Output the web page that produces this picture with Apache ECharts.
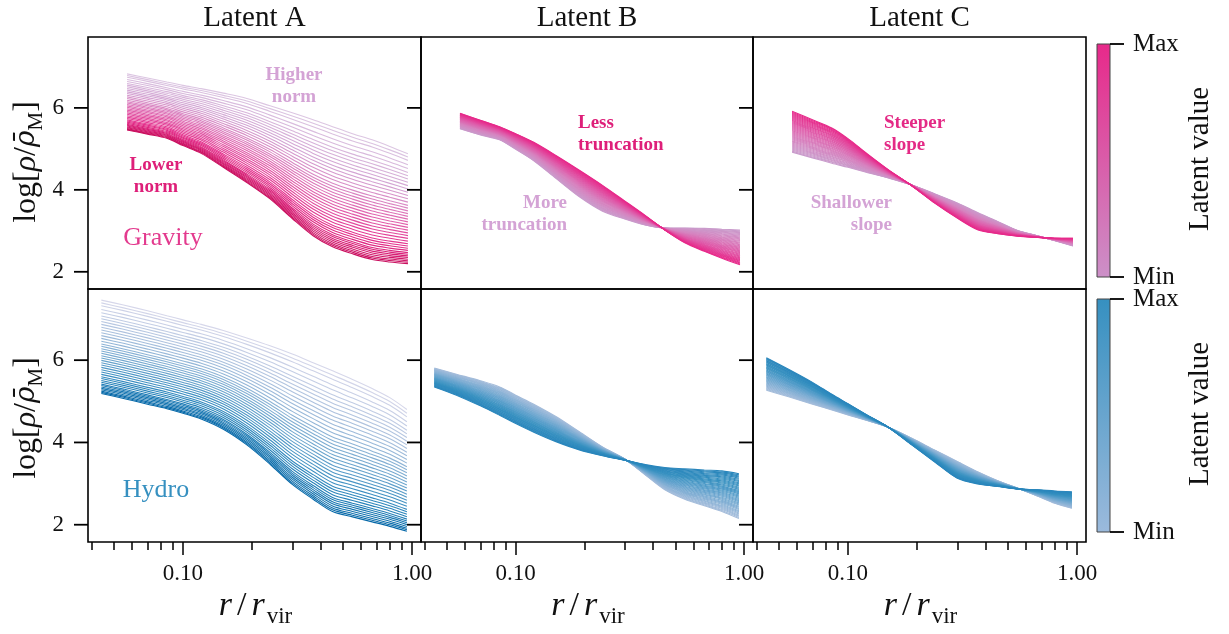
<!DOCTYPE html>
<html>
<head>
<meta charset="utf-8">
<script src="https://cdn.jsdelivr.net/npm/echarts@6/dist/echarts.min.js"></script>
<style>
  html, body { margin: 0; padding: 0; background: #fff; }
  #chart { width: 1229px; height: 634px; }
</style>
</head>
<body>
<div id="chart"></div>
<script>
  // radial bins, r / r_vir
  const rGravity = [0.057, 0.07, 0.085, 0.1, 0.12, 0.15, 0.19, 0.24, 0.3, 0.37, 0.45, 0.55, 0.67, 0.8, 0.96]
  const rHydro = [0.044, 0.055, 0.07, 0.085, 0.1, 0.12, 0.15, 0.19, 0.24, 0.3, 0.37, 0.45, 0.55, 0.67, 0.8, 0.95]

  // log[rho / rho_M] at the min and max latent value
  const gravAMin = [6.83, 6.73, 6.63, 6.55, 6.47, 6.36, 6.23, 6.05, 5.88, 5.71, 5.54, 5.37, 5.22, 5.06, 4.88]
  const gravAMax = [5.46, 5.36, 5.26, 5.08, 4.89, 4.55, 4.18, 3.78, 3.30, 2.88, 2.61, 2.44, 2.30, 2.24, 2.20]
  const gravBMin = [5.49, 5.34, 5.22, 4.99, 4.71, 4.28, 3.83, 3.48, 3.29, 3.14, 3.07, 3.07, 3.06, 3.04, 3.02]
  const gravBMax = [5.87, 5.70, 5.54, 5.37, 5.16, 4.84, 4.48, 4.11, 3.73, 3.37, 3.02, 2.71, 2.50, 2.33, 2.17]
  const gravCMin = [4.92, 4.78, 4.65, 4.55, 4.43, 4.29, 4.12, 3.90, 3.68, 3.44, 3.23, 3.01, 2.88, 2.76, 2.63]
  const gravCMax = [5.92, 5.71, 5.51, 5.25, 4.90, 4.49, 4.10, 3.67, 3.31, 3.02, 2.93, 2.87, 2.84, 2.82, 2.82]

  const hydroAMin = [7.46, 7.34, 7.20, 7.08, 6.98, 6.87, 6.72, 6.54, 6.35, 6.15, 5.94, 5.74, 5.53, 5.31, 5.09, 4.80]
  const hydroAMax = [5.19, 5.07, 4.93, 4.82, 4.71, 4.57, 4.32, 3.94, 3.47, 2.98, 2.62, 2.32, 2.19, 2.07, 1.96, 1.84]
  const hydroBMin = [5.81, 5.66, 5.50, 5.35, 5.15, 4.93, 4.63, 4.26, 3.89, 3.60, 3.21, 2.85, 2.62, 2.46, 2.32, 2.15]
  const hydroBMax = [5.35, 5.15, 4.89, 4.66, 4.46, 4.25, 4.02, 3.82, 3.68, 3.57, 3.46, 3.39, 3.36, 3.33, 3.31, 3.24]
  const hydroCMin = [5.27, 5.11, 4.93, 4.79, 4.67, 4.54, 4.37, 4.10, 3.81, 3.54, 3.28, 3.07, 2.89, 2.70, 2.52, 2.40]
  const hydroCMax = [6.06, 5.78, 5.46, 5.17, 4.94, 4.68, 4.37, 3.94, 3.52, 3.13, 2.99, 2.93, 2.87, 2.85, 2.82, 2.80]

  // Latent A sweep: where each line sits in the band, from the max-latent edge (0) to the min-latent edge (1)
  const spreadA = [0, 0.012, 0.025, 0.04, 0.055, 0.07, 0.085, 0.10, 0.12, 0.14, 0.16, 0.18, 0.205, 0.23,
    0.255, 0.28, 0.305, 0.33, 0.355, 0.38, 0.405, 0.43, 0.455, 0.48, 0.505, 0.53, 0.56, 0.59, 0.62,
    0.65, 0.68, 0.71, 0.74, 0.77, 0.80, 0.83, 0.865, 0.90, 0.94, 0.97, 1.0]

  const xMajor = [0.1, 1]
  const xMinor = [0.04, 0.05, 0.06, 0.07, 0.08, 0.09, 0.2, 0.3, 0.4, 0.5, 0.6, 0.7, 0.8, 0.9]
  const yTicks = [2, 4, 6]
  const colTitles = ['Latent A', 'Latent B', 'Latent C']

  const FONT = 'Liberation Serif'
  const nLines = spreadA.length
  const xMin = -1.4148
  const xMax = 0.0393
  const yMin = 1.58
  const yMax = 7.73

  const pinkA = ['#dcc6e2', '#d3a6d4', '#df6cb3', '#e4308c', '#c90e5e']
  const pinkBC = ['#c99ccc', '#d684c0', '#df5aa9', '#e7298a']
  const blueA = ['#d6d7ea', '#a9c0dd', '#72a8cf', '#2f88bd', '#0568a8']
  const blueBC = ['#a6bddb', '#82afd4', '#5a9fcb', '#3690c0', '#2a86bc']

  const lefts = [88, 421, 753]
  const widths = [333, 332, 333]
  const tops = [37, 289]
  const heights = [252, 253]

  function hexToRgb(h) {
    return [1, 3, 5].map(i => parseInt(h.slice(i, i + 2), 16))
  }

  function cmap(stops, t) {
    const s = t * (stops.length - 1)
    const i = Math.min(Math.floor(s), stops.length - 2)
    const f = s - i
    const a = hexToRgb(stops[i])
    const b = hexToRgb(stops[i + 1])
    const c = a.map((v, k) => Math.round(v + (b[k] - v) * f))
    return `rgb(${c[0]},${c[1]},${c[2]})`
  }

  const panels = [
    { row: 0, col: 0, r: rGravity, lo: gravAMin, hi: gravAMax, spread: spreadA, colors: pinkA },
    { row: 0, col: 1, r: rGravity, lo: gravBMin, hi: gravBMax, spread: null, colors: pinkBC },
    { row: 0, col: 2, r: rGravity, lo: gravCMin, hi: gravCMax, spread: null, colors: pinkBC },
    { row: 1, col: 0, r: rHydro, lo: hydroAMin, hi: hydroAMax, spread: spreadA, colors: blueA },
    { row: 1, col: 1, r: rHydro, lo: hydroBMin, hi: hydroBMax, spread: null, colors: blueBC },
    { row: 1, col: 2, r: rHydro, lo: hydroCMin, hi: hydroCMax, spread: null, colors: blueBC },
  ]

  const tickLine = { color: '#000', width: 1.5 }
  const grid = []
  const xAxis = []
  const yAxis = []
  const series = []

  panels.forEach((p, g) => {
    const bottom = p.row === 1
    grid.push({
      left: lefts[p.col], top: tops[p.row], width: widths[p.col], height: heights[p.row],
      show: true, borderColor: '#000', borderWidth: 1.6, backgroundColor: 'transparent',
    })

    xAxis.push({
      gridIndex: g, type: 'value', min: xMin, max: xMax, position: 'bottom', show: bottom,
      axisLine: { show: false, onZero: false }, splitLine: { show: false },
      axisTick: { show: true, customValues: xMajor.map(Math.log10), length: 13, lineStyle: tickLine },
      axisLabel: {
        customValues: xMajor.map(Math.log10), margin: 20, fontFamily: FONT, fontSize: 23, color: '#111',
        formatter: v => Math.pow(10, v).toFixed(2),
      },
    })
    xAxis.push({
      gridIndex: g, type: 'value', min: xMin, max: xMax, position: 'bottom', show: bottom,
      axisLine: { show: false, onZero: false }, splitLine: { show: false },
      axisTick: { show: true, customValues: xMinor.map(Math.log10), length: 8, lineStyle: tickLine },
      axisLabel: { show: false },
    })

    yAxis.push({
      gridIndex: g, type: 'value', min: yMin, max: yMax, position: 'left',
      axisLine: { show: false, onZero: false }, splitLine: { show: false },
      axisTick: { show: false },
      axisLabel: {
        show: p.col === 0, customValues: yTicks, margin: 24, fontFamily: FONT, fontSize: 23, color: '#111',
      },
    })

    // one line per latent value, min first so the max-latent lines end on top
    for (let i = 0; i < nLines; i++) {
      const u = i / (nLines - 1)
      const f = p.spread ? p.spread[nLines - 1 - i] : 1 - u
      series.push({
        type: 'line',
        xAxisIndex: 2 * g,
        yAxisIndex: g,
        data: p.r.map((x, j) => [Math.log10(x), p.hi[j] + f * (p.lo[j] - p.hi[j])]),
        symbol: 'none',
        smooth: 0.3,
        silent: true,
        lineStyle: { width: 1.1, color: cmap(p.colors, u) },
      })
    }
  })

  const text = (x, y, t, style, extra) => ({
    type: 'text', x, y, silent: true, ...(extra || {}),
    style: Object.assign({ text: t, fontFamily: FONT, fill: '#111', align: 'center', verticalAlign: 'middle' }, style),
  })

  const yLabelRich = {
    n: { fontFamily: FONT, fontSize: 32, color: '#111' },
    i: { fontFamily: FONT, fontSize: 32, fontStyle: 'italic', color: '#111' },
    b: { fontFamily: 'DejaVu Serif', fontSize: 28, fontStyle: 'italic', color: '#111' },
    s: { fontFamily: FONT, fontSize: 21, color: '#111', verticalAlign: 'bottom', lineHeight: 40 },
  }
  const xLabelRich = {
    i: { fontFamily: FONT, fontSize: 34, fontStyle: 'italic', color: '#111', padding: [0, 2, 0, 2] },
    n: { fontFamily: FONT, fontSize: 34, color: '#111', padding: [0, 3, 0, 3] },
    s: { fontFamily: FONT, fontSize: 23, color: '#111', verticalAlign: 'bottom', lineHeight: 44 },
  }

  const graphic = []
  colTitles.forEach((t, c) => {
    graphic.push(text(lefts[c] + widths[c] / 2, 18, t, { fontSize: 29 }))
    graphic.push(text(lefts[c] + widths[c] / 2, 606, '{i|r}{n|/}{i|r}{s|vir}', { rich: xLabelRich }))
  })
  ;[162, 418].forEach(cy => {
    graphic.push(text(27, cy, '{n|log[}{i|ρ}{n|/}{b|ρ̄}{s|M}{n|]}', { rich: yLabelRich }, { rotation: Math.PI / 2 }))
  })

  const light = '#d4a3d5'
  const dark = '#de1f79'
  const bold = { fontSize: 19, fontWeight: 'bold', lineHeight: 22 }
  graphic.push(text(294, 86, 'Higher\nnorm', Object.assign({ fill: light }, bold)))
  graphic.push(text(156, 176, 'Lower\nnorm', Object.assign({ fill: dark }, bold)))
  graphic.push(text(578, 134, 'Less\ntruncation', Object.assign({ fill: dark, align: 'left' }, bold)))
  graphic.push(text(567, 214, 'More\ntruncation', Object.assign({ fill: light, align: 'right' }, bold)))
  graphic.push(text(884, 134, 'Steeper\nslope', Object.assign({ fill: '#e42a86', align: 'left' }, bold)))
  graphic.push(text(892, 214, 'Shallower\nslope', Object.assign({ fill: light, align: 'right' }, bold)))
  graphic.push(text(163, 238, 'Gravity', { fontSize: 26, fill: '#e33a8e' }))
  graphic.push(text(156, 490, 'Hydro', { fontSize: 26, fill: '#3690c0' }))

  // colour bars
  const bars = [
    { y0: 44, y1: 277, top: '#e7298a', bottom: '#cc90c8', label: 159 },
    { y0: 299, y1: 532, top: '#3690c0', bottom: '#9bbadc', label: 414 },
  ]
  bars.forEach(b => {
    graphic.push({
      type: 'rect', silent: true,
      shape: { x: 1097, y: b.y0, width: 13, height: b.y1 - b.y0 },
      style: {
        fill: new echarts.graphic.LinearGradient(0, 0, 0, 1, [
          { offset: 0, color: b.top },
          { offset: 1, color: b.bottom },
        ]),
        stroke: '#444', lineWidth: 1,
      },
    })
    ;[b.y0, b.y1].forEach(y => {
      graphic.push({ type: 'line', silent: true, shape: { x1: 1110, y1: y, x2: 1124, y2: y }, style: { stroke: '#000', lineWidth: 1.8 } })
    })
    graphic.push(text(1133, b.y0, 'Max', { fontSize: 25, align: 'left' }))
    graphic.push(text(1133, b.y1, 'Min', { fontSize: 25, align: 'left' }))
    graphic.push(text(1200, b.label, 'Latent value', { fontSize: 29 }, { rotation: Math.PI / 2 }))
  })

  const chart = echarts.init(document.getElementById('chart'))
  chart.setOption({
    animation: false,
    backgroundColor: '#fff',
    grid,
    xAxis,
    yAxis,
    series,
  })

  // y ticks: outward on the left of the first column, inward on the right of the first two columns
  panels.forEach((p, g) => {
    const x0 = lefts[p.col]
    const x1 = x0 + widths[p.col]
    yTicks.forEach(v => {
      const y = chart.convertToPixel({ yAxisIndex: g }, v)
      if (p.col === 0) {
        graphic.push({ type: 'line', silent: true, z: 10, shape: { x1: x0 - 14, y1: y, x2: x0, y2: y }, style: { stroke: '#000', lineWidth: 1.8 } })
      }
      if (p.col < 2) {
        graphic.push({ type: 'line', silent: true, z: 10, shape: { x1: x1 - 14, y1: y, x2: x1, y2: y }, style: { stroke: '#000', lineWidth: 1.8 } })
      }
    })
  })

  chart.setOption({ graphic })
</script>
</body>
</html>
